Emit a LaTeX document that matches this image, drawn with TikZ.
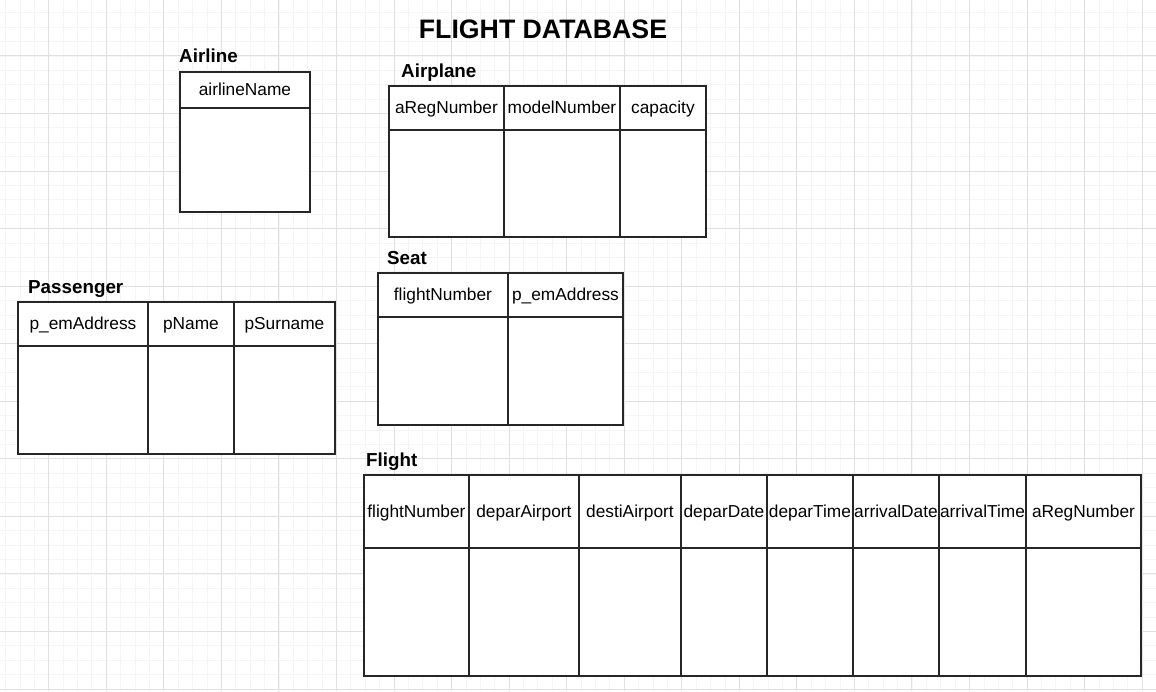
\documentclass[tikz,border=0pt]{standalone}
\usepackage{fontspec}
\setmainfont{Liberation Sans}
\newcommand\mycellfont{\fontsize{17.3}{20}\selectfont}
\newcommand\mylblfont{\fontsize{18.8}{22}\selectfont\bfseries}
\newcommand\mytitlefont{\fontsize{26.7}{31}\selectfont\bfseries}
\begin{document}
\begin{tikzpicture}[x=1pt,y=-1pt,
  gridminor/.style={draw=black!4, line width=0.8pt},
  gridmajor/.style={draw=black!12, line width=1pt},
  cell/.style={draw=black!85, line width=1.9pt, inner sep=0pt, anchor=north west,
    fill=white, font=\mycellfont, text height=11.2pt, text depth=0pt},
  lbl/.style={anchor=base west, inner sep=0pt, font=\mylblfont},
  ttl/.style={anchor=base, inner sep=0pt, font=\mytitlefont}]
\useasboundingbox (0,0) rectangle (1156,691);
\fill[white] (0,0) rectangle (1156,691);
% grid
\foreach \i in {-4,...,80} \draw[gridminor] ({48.7+\i*14.3875},0) -- ++(0,691);
\foreach \i in {0,...,49} \draw[gridminor] (0,{-1.6+\i*14.3875}) -- ++(1156,0);
\foreach \k in {-1,...,19} \draw[gridmajor] ({48.7+\k*57.55},0) -- ++(0,691);
\foreach \k in {0,...,12} \draw[gridmajor] (0,{-1.6+\k*57.55}) -- ++(1156,0);
% title
\node[ttl] (title) at (543,38) {FLIGHT DATABASE};
% Airline
\node[lbl] (airlineLbl) at (179,62) {Airline};
\foreach \a/\b/\t/\n in {179/309/airlineName/al1}{
  \node[cell, minimum width={(\b-\a)*1pt}, minimum height=36pt] (\n-h) at (\a,71) {\t};
  \node[cell, minimum width={(\b-\a)*1pt}, minimum height=104pt] (\n-b) at (\a,107) {};
}
% Airplane
\node[lbl] (airplaneLbl) at (401,77) {Airplane};
\foreach \a/\b/\t/\n in {388/503/aRegNumber/ap1, 503/619/modelNumber/ap2, 619/705/capacity/ap3}{
  \node[cell, minimum width={(\b-\a)*1pt}, minimum height=44pt] (\n-h) at (\a,85) {\t};
  \node[cell, minimum width={(\b-\a)*1pt}, minimum height=107pt] (\n-b) at (\a,129) {};
}
% Seat
\node[lbl] (seatLbl) at (387,264) {Seat};
\foreach \a/\b/\t/\n in {377/507/flightNumber/se1, 507/622/p\_emAddress/se2}{
  \node[cell, minimum width={(\b-\a)*1pt}, minimum height=44pt] (\n-h) at (\a,272) {\t};
  \node[cell, minimum width={(\b-\a)*1pt}, minimum height=108pt] (\n-b) at (\a,316) {};
}
% Passenger
\node[lbl] (passengerLbl) at (28,293) {Passenger};
\foreach \a/\b/\t/\n in {17/147/p\_emAddress/pa1, 147/233/pName/pa2, 233/334/pSurname/pa3}{
  \node[cell, minimum width={(\b-\a)*1pt}, minimum height=44pt] (\n-h) at (\a,301) {\t};
  \node[cell, minimum width={(\b-\a)*1pt}, minimum height=108pt] (\n-b) at (\a,345) {};
}
% Flight
\node[lbl] (flightLbl) at (366,466) {Flight};
\foreach \a/\b/\t/\n in {363/468/flightNumber/fl1, 468/578/deparAirport/fl2, 578/680/destiAirport/fl3,
    680/766/deparDate/fl4, 766/852/deparTime/fl5, 852/938/arrivalDate/fl6,
    938/1025/arrivalTime/fl7, 1025/1140/aRegNumber/fl8}{
  \node[cell, minimum width={(\b-\a)*1pt}, minimum height=73pt] (\n-h) at (\a,474) {\t};
  \node[cell, minimum width={(\b-\a)*1pt}, minimum height=128pt] (\n-b) at (\a,547) {};
}
\end{tikzpicture}
\end{document}
